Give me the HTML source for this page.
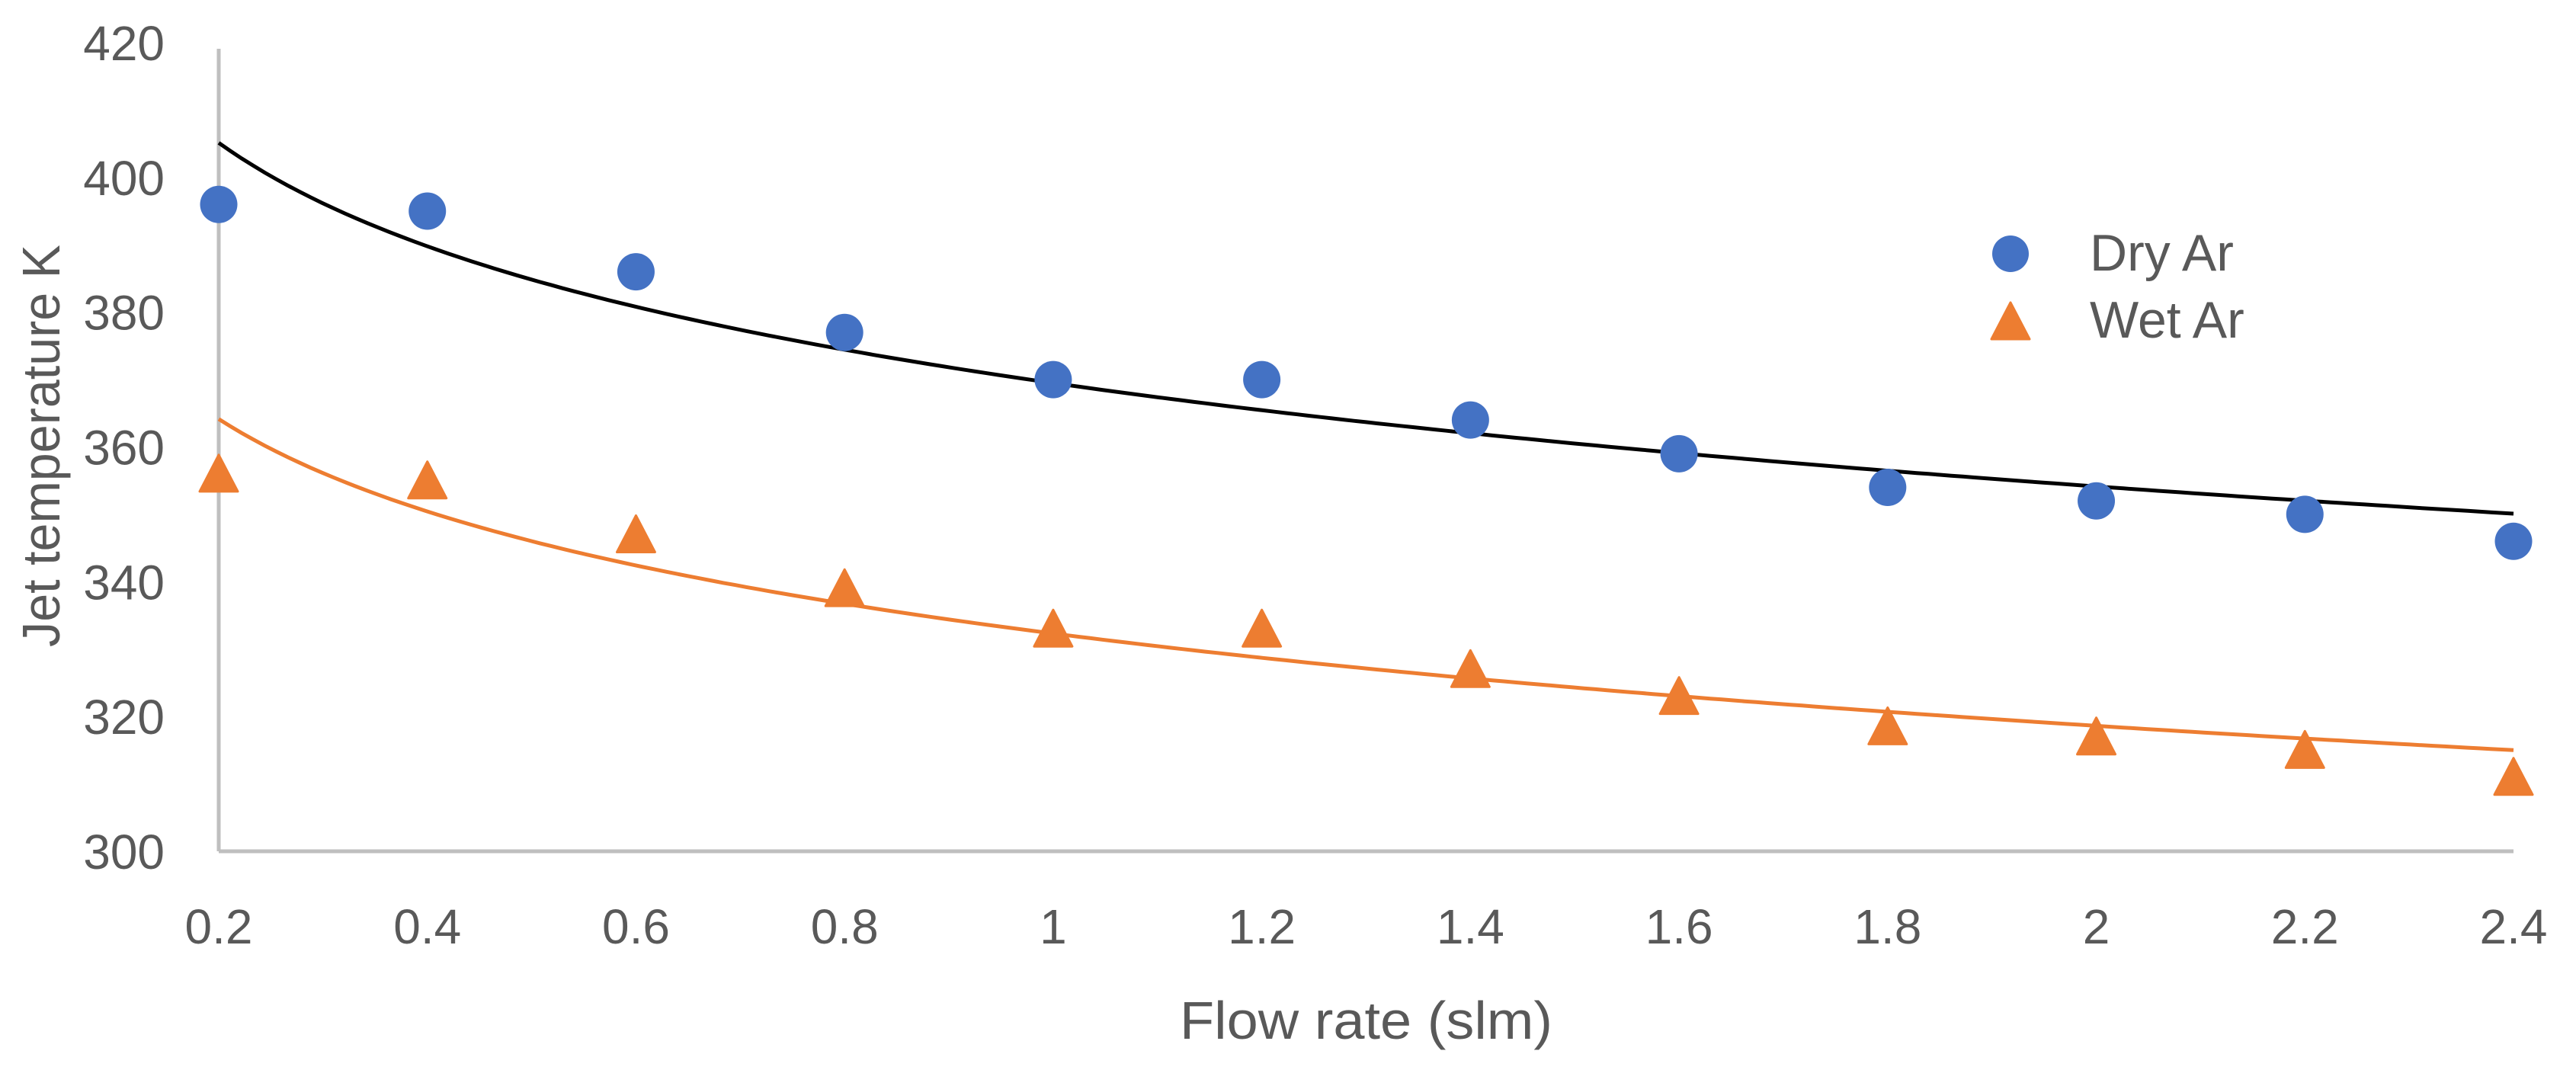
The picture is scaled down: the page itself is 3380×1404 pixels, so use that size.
<!DOCTYPE html>
<html><head><meta charset="utf-8"><style>
html,body{margin:0;padding:0;background:#fff;}
svg{display:block;font-family:"Liberation Sans",sans-serif;}
</style></head><body>
<svg id="chart" width="3380" height="1404" viewBox="0 0 3380 1404" xmlns="http://www.w3.org/2000/svg"></svg>
<script>
const xValues = [0.2,0.4,0.6,0.8,1.0,1.2,1.4,1.6,1.8,2.0,2.2,2.4];
const dryAr = [396,395,386,377,370,370,364,359,354,352,350,346];
const wetAr = [356,355,347,339,333,333,327,323,318.5,317,315,311];
const xTicks = [0.2,0.4,0.6,0.8,1,1.2,1.4,1.6,1.8,2,2.2,2.4];
const xTickLabels = ["0.2","0.4","0.6","0.8","1","1.2","1.4","1.6","1.8","2","2.2","2.4"];
const yTicks = [300,320,340,360,380,400,420];

const svg = document.getElementById('chart');
const NS = 'http://www.w3.org/2000/svg';
const X0=287, X1=3298, Y0=1117, Y1=56;
const xMin=0.2, xMax=2.4, yMin=300, yMax=420;
function sx(v){return X0+(v-xMin)/(xMax-xMin)*(X1-X0);}
function sy(v){return Y0-(v-yMin)/(yMax-yMin)*(Y0-Y1);}
function mk(tag, attrs){const e=document.createElementNS(NS,tag);for(const k in attrs)e.setAttribute(k,attrs[k]);svg.appendChild(e);return e;}

let e=mk('line',{x1:X0,y1:Y1+8,x2:X0,y2:Y0,stroke:'#BFBFBF','stroke-width':5});


e=mk('line',{x1:X0,y1:Y0,x2:X1,y2:Y0,stroke:'#BFBFBF','stroke-width':5});



yTicks.forEach(t=>{
  const el=mk('text',{x:216,y:sy(t)+23,'text-anchor':'end','font-size':64,fill:'#595959'});
  el.textContent=String(t);
  
  
});
xTicks.forEach((t,i)=>{
  const el=mk('text',{x:sx(t),y:1238,'text-anchor':'middle','font-size':64,fill:'#595959'});
  el.textContent=xTickLabels[i];
  
  
});

e=mk('text',{x:1548,y:1363,'font-size':70,fill:'#595959',textLength:489,lengthAdjust:'spacingAndGlyphs'});
e.textContent='Flow rate (slm)';


e=mk('text',{x:-264,y:0,'font-size':70,fill:'#595959',textLength:528,lengthAdjust:'spacingAndGlyphs',transform:'translate(78,585) rotate(-90)'});
e.textContent='Jet temperature K';



function logFit(xs,ys){
  const n=xs.length;let sl=0,sy2=0,sll=0,sly=0;
  xs.forEach((x,i)=>{const l=Math.log(x);sl+=l;sy2+=ys[i];sll+=l*l;sly+=l*ys[i];});
  const b=(n*sly-sl*sy2)/(n*sll-sl*sl);const a=(sy2-b*sl)/n;return [a,b];
}
function trend(ys,color,name){
  const [a,b]=logFit(xValues,ys);
  let d='';
  for(let i=0;i<=200;i++){const x=xMin+(xMax-xMin)*i/200;d+=(i?'L':'M')+sx(x).toFixed(1)+','+sy(a+b*Math.log(x)).toFixed(1);}
  const p=mk('path',{d:d,fill:'none',stroke:color,'stroke-width':5});
  
  
}
trend(dryAr,'#000000','dry-ar-trendline');
trend(wetAr,'#ED7D31','wet-ar-trendline');

function tri(cx,cy,color){
  return mk('path',{d:`M${cx},${cy-25} L${cx+25},${cy+23} L${cx-25},${cy+23} Z`,fill:color,stroke:color,'stroke-width':3,'stroke-linejoin':'round'});
}
xValues.forEach((x,i)=>{
  const c=mk('circle',{cx:sx(x),cy:sy(dryAr[i]),r:24.5,fill:'#4472C4'});
  
  
  const t=tri(sx(x),sy(wetAr[i]),'#ED7D31');
  
  
});

e=mk('circle',{cx:2638,cy:333,r:24,fill:'#4472C4'});


e=tri(2638,422,'#ED7D31');


e=mk('text',{x:2742,y:355,'font-size':68,fill:'#595959'});
e.textContent='Dry Ar';


e=mk('text',{x:2742,y:443,'font-size':68,fill:'#595959'});
e.textContent='Wet Ar';


</script>
</body></html>
